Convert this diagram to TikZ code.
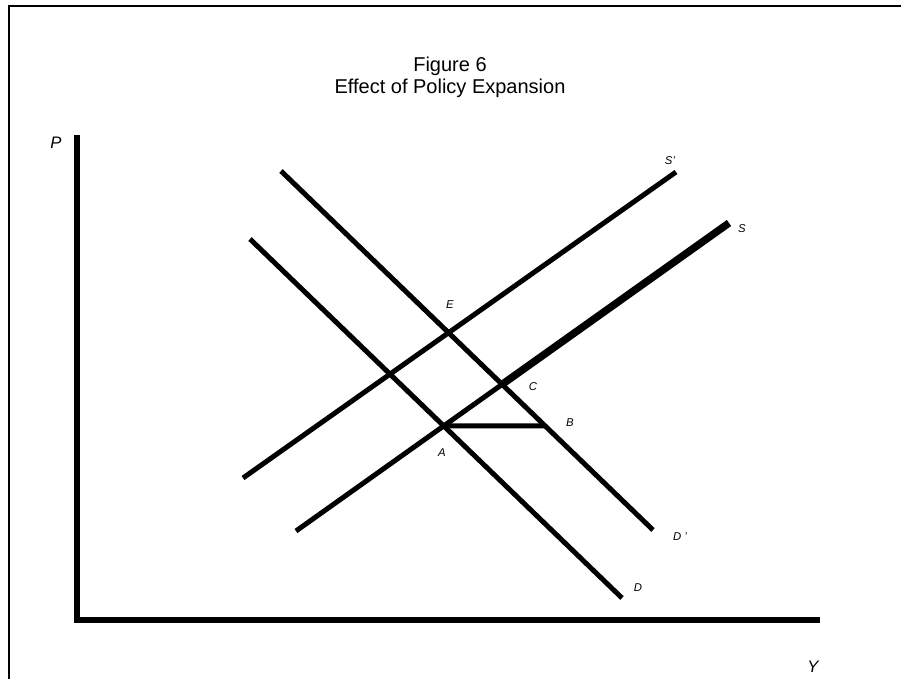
\documentclass[tikz,border=0pt]{standalone}
\usepackage{fontspec}
\setmainfont{Liberation Sans}
\usetikzlibrary{calc}

\begin{document}
\begin{tikzpicture}[
        x=0.75pt, y=-0.75pt,
        curve/.style = {line width=3.75pt},
        heavy/.style = {line width=5.6pt},
        axis/.style = {line width=4.1pt},
        lbl/.style = {font=\fontsize{8.5}{10}\selectfont\itshape, inner sep=0pt},
        axlbl/.style = {font=\fontsize{12.5}{14}\selectfont\itshape, inner sep=0pt}
    ]
    \useasboundingbox (0,0) rectangle (901,679);

    % frame
    \draw[line width=1.5pt] (9,679) -- (9,6) -- (901,6);

    \node[font=\fontsize{15}{16.5}\selectfont, align=center] (title) at (450,77) {Figure 6\\Effect of Policy Expansion};

    % axes
    \coordinate (origin) at (77,620);
    \coordinate (ptop) at (77,135);
    \coordinate (yend) at (820,620);
    \draw[axis] (ptop) -- (origin) -- (yend);
    \node[axlbl] (plbl) at (56,143) {P};
    \node[axlbl] (ylbl) at (813,667) {Y};

    % demand and supply
    \coordinate (D1) at (250,239);
    \coordinate (D2) at (622,598);
    \coordinate (Dp1) at (281,171);
    \coordinate (Dp2) at (653,530);
    \coordinate (Sp1) at (243,478);
    \coordinate (Sp2) at (676,172);
    \coordinate (S1) at (296,531);
    \coordinate (S2) at (729,223);
    \coordinate (A) at (intersection of D1--D2 and S1--S2);
    \coordinate (C) at (intersection of Dp1--Dp2 and S1--S2);
    \coordinate (Ar) at ($(A)+(100,0)$);
    \coordinate (B) at (intersection of A--Ar and Dp1--Dp2);

    \draw[curve] (D1) -- (D2);
    \draw[curve] (Dp1) -- (Dp2);
    \draw[curve] (Sp1) -- (Sp2);
    \draw[curve] (S1) -- (C);
    \draw[heavy] (C) -- (S2);
    \draw[curve] (A) -- (B);

    \node[lbl] (lblE) at (450,305) {E};
    \node[lbl] (lblC) at (533,387) {C};
    \node[lbl] (lblB) at (570,423) {B};
    \node[lbl] (lblA) at (442,453) {A};
    \node[lbl] (lblSp) at (670,161) {S'};
    \node[lbl] (lblS) at (742,229) {S};
    \node[lbl] (lblDp) at (680,537) {D '};
    \node[lbl] (lblD) at (638,588) {D};
\end{tikzpicture}
\end{document}
